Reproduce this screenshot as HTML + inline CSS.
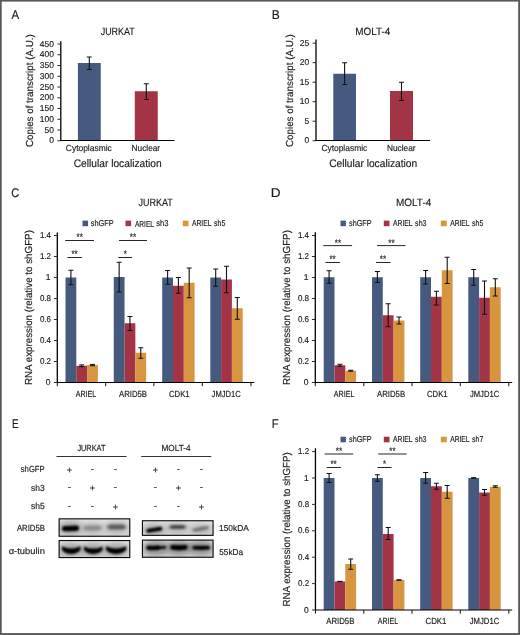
<!DOCTYPE html>
<html lang="en">
<head>
<meta charset="utf-8">
<title>Figure</title>
<style>
html,body{margin:0;padding:0;background:#fff;}
body{width:520px;height:635px;overflow:hidden;}
svg{display:block;font-family:"Liberation Sans", sans-serif;}
text{stroke:#1c1c1c;stroke-width:0.16px;text-rendering:geometricPrecision;}
</style>
</head>
<body>
<svg width="520" height="635" viewBox="0 0 520 635" role="img" aria-label="Figure panels A to F">
<rect x="0" y="0" width="520" height="635" fill="#ffffff"/>
<rect x="0" y="0" width="520" height="1.6" fill="#585858"/>
<rect x="0" y="0" width="1.7" height="635" fill="#585858"/>
<rect x="518.2" y="0" width="1.8" height="635" fill="#585858"/>
<rect x="0" y="633.1" width="520" height="1.9" fill="#585858"/>
<text x="11.57" y="18.70" font-size="12.6" textLength="7.65" lengthAdjust="spacingAndGlyphs" fill="#1c1c1c">A</text>
<text x="100.67" y="34.70" font-size="10.6" textLength="34.14" lengthAdjust="spacingAndGlyphs" fill="#1c1c1c">JURKAT</text>
<line x1="60.80" y1="41.25" x2="60.80" y2="141.00" stroke="#000" stroke-width="1.3"/>
<line x1="57.40" y1="140.80" x2="60.80" y2="140.80" stroke="#2a2a2a" stroke-width="1.0"/>
<text x="49.27" y="143.45" font-size="8.5" textLength="4.73" lengthAdjust="spacingAndGlyphs" fill="#1c1c1c">0</text>
<line x1="57.40" y1="130.04" x2="60.80" y2="130.04" stroke="#2a2a2a" stroke-width="1.0"/>
<text x="44.55" y="132.69" font-size="8.5" textLength="9.45" lengthAdjust="spacingAndGlyphs" fill="#1c1c1c">50</text>
<line x1="57.40" y1="119.29" x2="60.80" y2="119.29" stroke="#2a2a2a" stroke-width="1.0"/>
<text x="39.82" y="121.94" font-size="8.5" textLength="14.18" lengthAdjust="spacingAndGlyphs" fill="#1c1c1c">100</text>
<line x1="57.40" y1="108.53" x2="60.80" y2="108.53" stroke="#2a2a2a" stroke-width="1.0"/>
<text x="39.82" y="111.18" font-size="8.5" textLength="14.18" lengthAdjust="spacingAndGlyphs" fill="#1c1c1c">150</text>
<line x1="57.40" y1="97.78" x2="60.80" y2="97.78" stroke="#2a2a2a" stroke-width="1.0"/>
<text x="39.82" y="100.43" font-size="8.5" textLength="14.18" lengthAdjust="spacingAndGlyphs" fill="#1c1c1c">200</text>
<line x1="57.40" y1="87.02" x2="60.80" y2="87.02" stroke="#2a2a2a" stroke-width="1.0"/>
<text x="39.82" y="89.67" font-size="8.5" textLength="14.18" lengthAdjust="spacingAndGlyphs" fill="#1c1c1c">250</text>
<line x1="57.40" y1="76.27" x2="60.80" y2="76.27" stroke="#2a2a2a" stroke-width="1.0"/>
<text x="39.82" y="78.92" font-size="8.5" textLength="14.18" lengthAdjust="spacingAndGlyphs" fill="#1c1c1c">300</text>
<line x1="57.40" y1="65.51" x2="60.80" y2="65.51" stroke="#2a2a2a" stroke-width="1.0"/>
<text x="39.82" y="68.16" font-size="8.5" textLength="14.18" lengthAdjust="spacingAndGlyphs" fill="#1c1c1c">350</text>
<line x1="57.40" y1="54.76" x2="60.80" y2="54.76" stroke="#2a2a2a" stroke-width="1.0"/>
<text x="39.82" y="57.41" font-size="8.5" textLength="14.18" lengthAdjust="spacingAndGlyphs" fill="#1c1c1c">400</text>
<line x1="57.40" y1="44.00" x2="60.80" y2="44.00" stroke="#2a2a2a" stroke-width="1.0"/>
<text x="39.82" y="46.65" font-size="8.5" textLength="14.18" lengthAdjust="spacingAndGlyphs" fill="#1c1c1c">450</text>
<rect x="77.90" y="63.00" width="22.85" height="77.50" fill="#465a80"/>
<rect x="134.80" y="91.25" width="22.95" height="49.25" fill="#a23446"/>
<line x1="89.30" y1="57.00" x2="89.30" y2="69.50" stroke="#111" stroke-width="1.1"/>
<line x1="86.80" y1="57.00" x2="91.80" y2="57.00" stroke="#111" stroke-width="1.0"/>
<line x1="86.80" y1="69.50" x2="91.80" y2="69.50" stroke="#111" stroke-width="1.0"/>
<line x1="146.30" y1="83.75" x2="146.30" y2="99.50" stroke="#111" stroke-width="1.1"/>
<line x1="143.80" y1="83.75" x2="148.80" y2="83.75" stroke="#111" stroke-width="1.0"/>
<line x1="143.80" y1="99.50" x2="148.80" y2="99.50" stroke="#111" stroke-width="1.0"/>
<line x1="60.30" y1="140.50" x2="174.50" y2="140.50" stroke="#000" stroke-width="1.2"/>
<text x="65.83" y="151.30" font-size="8.8" textLength="45.91" lengthAdjust="spacingAndGlyphs" fill="#1c1c1c">Cytoplasmic</text>
<text x="131.57" y="151.30" font-size="8.8" textLength="28.57" lengthAdjust="spacingAndGlyphs" fill="#1c1c1c">Nuclear</text>
<text x="73.74" y="166.80" font-size="10.9" textLength="87.93" lengthAdjust="spacingAndGlyphs" fill="#1c1c1c">Cellular localization</text>
<text transform="translate(32.50,146.99) rotate(-90)" font-size="10.2" textLength="112.71" lengthAdjust="spacingAndGlyphs" fill="#1c1c1c">Copies of transcript (A.U.)</text>
<text x="271.81" y="18.70" font-size="12.6" textLength="8.02" lengthAdjust="spacingAndGlyphs" fill="#1c1c1c">B</text>
<text x="355.18" y="34.70" font-size="10.6" textLength="35.09" lengthAdjust="spacingAndGlyphs" fill="#1c1c1c">MOLT-4</text>
<line x1="316.00" y1="39.60" x2="316.00" y2="141.00" stroke="#000" stroke-width="1.3"/>
<line x1="312.60" y1="140.75" x2="316.00" y2="140.75" stroke="#2a2a2a" stroke-width="1.0"/>
<text x="304.47" y="143.40" font-size="8.5" textLength="4.73" lengthAdjust="spacingAndGlyphs" fill="#1c1c1c">0</text>
<line x1="312.60" y1="121.23" x2="316.00" y2="121.23" stroke="#2a2a2a" stroke-width="1.0"/>
<text x="304.47" y="123.88" font-size="8.5" textLength="4.73" lengthAdjust="spacingAndGlyphs" fill="#1c1c1c">5</text>
<line x1="312.60" y1="101.71" x2="316.00" y2="101.71" stroke="#2a2a2a" stroke-width="1.0"/>
<text x="299.75" y="104.36" font-size="8.5" textLength="9.45" lengthAdjust="spacingAndGlyphs" fill="#1c1c1c">10</text>
<line x1="312.60" y1="82.19" x2="316.00" y2="82.19" stroke="#2a2a2a" stroke-width="1.0"/>
<text x="299.75" y="84.84" font-size="8.5" textLength="9.45" lengthAdjust="spacingAndGlyphs" fill="#1c1c1c">15</text>
<line x1="312.60" y1="62.67" x2="316.00" y2="62.67" stroke="#2a2a2a" stroke-width="1.0"/>
<text x="299.75" y="65.32" font-size="8.5" textLength="9.45" lengthAdjust="spacingAndGlyphs" fill="#1c1c1c">20</text>
<line x1="312.60" y1="43.15" x2="316.00" y2="43.15" stroke="#2a2a2a" stroke-width="1.0"/>
<text x="299.75" y="45.80" font-size="8.5" textLength="9.45" lengthAdjust="spacingAndGlyphs" fill="#1c1c1c">25</text>
<rect x="333.30" y="73.75" width="22.70" height="66.75" fill="#465a80"/>
<rect x="390.00" y="91.00" width="23.00" height="49.50" fill="#a23446"/>
<line x1="344.60" y1="62.75" x2="344.60" y2="84.50" stroke="#111" stroke-width="1.1"/>
<line x1="342.10" y1="62.75" x2="347.10" y2="62.75" stroke="#111" stroke-width="1.0"/>
<line x1="342.10" y1="84.50" x2="347.10" y2="84.50" stroke="#111" stroke-width="1.0"/>
<line x1="401.50" y1="82.25" x2="401.50" y2="100.50" stroke="#111" stroke-width="1.1"/>
<line x1="399.00" y1="82.25" x2="404.00" y2="82.25" stroke="#111" stroke-width="1.0"/>
<line x1="399.00" y1="100.50" x2="404.00" y2="100.50" stroke="#111" stroke-width="1.0"/>
<line x1="315.50" y1="140.50" x2="430.00" y2="140.50" stroke="#000" stroke-width="1.2"/>
<text x="321.38" y="151.30" font-size="8.8" textLength="45.86" lengthAdjust="spacingAndGlyphs" fill="#1c1c1c">Cytoplasmic</text>
<text x="387.01" y="151.30" font-size="8.8" textLength="28.62" lengthAdjust="spacingAndGlyphs" fill="#1c1c1c">Nuclear</text>
<text x="329.19" y="166.80" font-size="10.9" textLength="87.98" lengthAdjust="spacingAndGlyphs" fill="#1c1c1c">Cellular localization</text>
<text transform="translate(293.20,146.99) rotate(-90)" font-size="10.2" textLength="112.71" lengthAdjust="spacingAndGlyphs" fill="#1c1c1c">Copies of transcript (A.U.)</text>
<text x="11.34" y="197.00" font-size="12.6" textLength="8.11" lengthAdjust="spacingAndGlyphs" fill="#1c1c1c">C</text>
<text x="138.46" y="205.60" font-size="10.6" textLength="34.44" lengthAdjust="spacingAndGlyphs" fill="#1c1c1c">JURKAT</text>
<line x1="57.30" y1="232.50" x2="57.30" y2="383.00" stroke="#000" stroke-width="1.3"/>
<line x1="53.90" y1="382.50" x2="57.30" y2="382.50" stroke="#2a2a2a" stroke-width="1.0"/>
<text x="45.77" y="385.15" font-size="8.5" textLength="4.73" lengthAdjust="spacingAndGlyphs" fill="#1c1c1c">0</text>
<line x1="53.90" y1="361.50" x2="57.30" y2="361.50" stroke="#2a2a2a" stroke-width="1.0"/>
<text x="39.89" y="364.15" font-size="8.5" textLength="11.11" lengthAdjust="spacingAndGlyphs" fill="#1c1c1c">0.2</text>
<line x1="53.90" y1="340.50" x2="57.30" y2="340.50" stroke="#2a2a2a" stroke-width="1.0"/>
<text x="39.89" y="343.15" font-size="8.5" textLength="11.11" lengthAdjust="spacingAndGlyphs" fill="#1c1c1c">0.4</text>
<line x1="53.90" y1="319.50" x2="57.30" y2="319.50" stroke="#2a2a2a" stroke-width="1.0"/>
<text x="39.89" y="322.15" font-size="8.5" textLength="11.11" lengthAdjust="spacingAndGlyphs" fill="#1c1c1c">0.6</text>
<line x1="53.90" y1="298.50" x2="57.30" y2="298.50" stroke="#2a2a2a" stroke-width="1.0"/>
<text x="39.89" y="301.15" font-size="8.5" textLength="11.11" lengthAdjust="spacingAndGlyphs" fill="#1c1c1c">0.8</text>
<line x1="53.90" y1="277.50" x2="57.30" y2="277.50" stroke="#2a2a2a" stroke-width="1.0"/>
<text x="45.77" y="280.15" font-size="8.5" textLength="4.73" lengthAdjust="spacingAndGlyphs" fill="#1c1c1c">1</text>
<line x1="53.90" y1="256.50" x2="57.30" y2="256.50" stroke="#2a2a2a" stroke-width="1.0"/>
<text x="39.89" y="259.15" font-size="8.5" textLength="11.11" lengthAdjust="spacingAndGlyphs" fill="#1c1c1c">1.2</text>
<line x1="53.90" y1="235.50" x2="57.30" y2="235.50" stroke="#2a2a2a" stroke-width="1.0"/>
<text x="39.89" y="238.15" font-size="8.5" textLength="11.11" lengthAdjust="spacingAndGlyphs" fill="#1c1c1c">1.4</text>
<rect x="65.50" y="277.50" width="10.80" height="105.00" fill="#465a80"/>
<rect x="76.30" y="365.75" width="10.80" height="16.75" fill="#a23446"/>
<rect x="87.10" y="365.00" width="10.80" height="17.50" fill="#d6953e"/>
<line x1="70.90" y1="270.25" x2="70.90" y2="284.75" stroke="#111" stroke-width="1.1"/>
<line x1="68.40" y1="270.25" x2="73.40" y2="270.25" stroke="#111" stroke-width="1.0"/>
<line x1="68.40" y1="284.75" x2="73.40" y2="284.75" stroke="#111" stroke-width="1.0"/>
<line x1="81.70" y1="364.90" x2="81.70" y2="366.60" stroke="#111" stroke-width="1.1"/>
<line x1="79.20" y1="364.90" x2="84.20" y2="364.90" stroke="#111" stroke-width="1.0"/>
<line x1="79.20" y1="366.60" x2="84.20" y2="366.60" stroke="#111" stroke-width="1.0"/>
<line x1="92.50" y1="364.40" x2="92.50" y2="365.70" stroke="#111" stroke-width="1.1"/>
<line x1="90.00" y1="364.40" x2="95.00" y2="364.40" stroke="#111" stroke-width="1.0"/>
<line x1="90.00" y1="365.70" x2="95.00" y2="365.70" stroke="#111" stroke-width="1.0"/>
<rect x="113.75" y="277.00" width="10.80" height="105.50" fill="#465a80"/>
<rect x="124.55" y="323.25" width="10.80" height="59.25" fill="#a23446"/>
<rect x="135.35" y="352.75" width="10.80" height="29.75" fill="#d6953e"/>
<line x1="119.15" y1="262.25" x2="119.15" y2="292.00" stroke="#111" stroke-width="1.1"/>
<line x1="116.65" y1="262.25" x2="121.65" y2="262.25" stroke="#111" stroke-width="1.0"/>
<line x1="116.65" y1="292.00" x2="121.65" y2="292.00" stroke="#111" stroke-width="1.0"/>
<line x1="129.95" y1="316.50" x2="129.95" y2="330.50" stroke="#111" stroke-width="1.1"/>
<line x1="127.45" y1="316.50" x2="132.45" y2="316.50" stroke="#111" stroke-width="1.0"/>
<line x1="127.45" y1="330.50" x2="132.45" y2="330.50" stroke="#111" stroke-width="1.0"/>
<line x1="140.75" y1="347.75" x2="140.75" y2="358.25" stroke="#111" stroke-width="1.1"/>
<line x1="138.25" y1="347.75" x2="143.25" y2="347.75" stroke="#111" stroke-width="1.0"/>
<line x1="138.25" y1="358.25" x2="143.25" y2="358.25" stroke="#111" stroke-width="1.0"/>
<rect x="162.20" y="277.50" width="10.80" height="105.00" fill="#465a80"/>
<rect x="173.00" y="285.75" width="10.80" height="96.75" fill="#a23446"/>
<rect x="183.80" y="282.75" width="10.80" height="99.75" fill="#d6953e"/>
<line x1="167.60" y1="270.50" x2="167.60" y2="284.25" stroke="#111" stroke-width="1.1"/>
<line x1="165.10" y1="270.50" x2="170.10" y2="270.50" stroke="#111" stroke-width="1.0"/>
<line x1="165.10" y1="284.25" x2="170.10" y2="284.25" stroke="#111" stroke-width="1.0"/>
<line x1="178.40" y1="277.50" x2="178.40" y2="293.25" stroke="#111" stroke-width="1.1"/>
<line x1="175.90" y1="277.50" x2="180.90" y2="277.50" stroke="#111" stroke-width="1.0"/>
<line x1="175.90" y1="293.25" x2="180.90" y2="293.25" stroke="#111" stroke-width="1.0"/>
<line x1="189.20" y1="268.00" x2="189.20" y2="297.75" stroke="#111" stroke-width="1.1"/>
<line x1="186.70" y1="268.00" x2="191.70" y2="268.00" stroke="#111" stroke-width="1.0"/>
<line x1="186.70" y1="297.75" x2="191.70" y2="297.75" stroke="#111" stroke-width="1.0"/>
<rect x="210.30" y="277.50" width="10.80" height="105.00" fill="#465a80"/>
<rect x="221.10" y="279.50" width="10.80" height="103.00" fill="#a23446"/>
<rect x="231.90" y="308.25" width="10.80" height="74.25" fill="#d6953e"/>
<line x1="215.70" y1="269.00" x2="215.70" y2="286.25" stroke="#111" stroke-width="1.1"/>
<line x1="213.20" y1="269.00" x2="218.20" y2="269.00" stroke="#111" stroke-width="1.0"/>
<line x1="213.20" y1="286.25" x2="218.20" y2="286.25" stroke="#111" stroke-width="1.0"/>
<line x1="226.50" y1="266.25" x2="226.50" y2="292.75" stroke="#111" stroke-width="1.1"/>
<line x1="224.00" y1="266.25" x2="229.00" y2="266.25" stroke="#111" stroke-width="1.0"/>
<line x1="224.00" y1="292.75" x2="229.00" y2="292.75" stroke="#111" stroke-width="1.0"/>
<line x1="237.30" y1="297.50" x2="237.30" y2="319.25" stroke="#111" stroke-width="1.1"/>
<line x1="234.80" y1="297.50" x2="239.80" y2="297.50" stroke="#111" stroke-width="1.0"/>
<line x1="234.80" y1="319.25" x2="239.80" y2="319.25" stroke="#111" stroke-width="1.0"/>
<line x1="56.80" y1="382.50" x2="254.25" y2="382.50" stroke="#000" stroke-width="1.2"/>
<line x1="57.30" y1="382.50" x2="57.30" y2="386.20" stroke="#111" stroke-width="1.0"/>
<line x1="105.70" y1="382.50" x2="105.70" y2="386.20" stroke="#111" stroke-width="1.0"/>
<line x1="153.90" y1="382.50" x2="153.90" y2="386.20" stroke="#111" stroke-width="1.0"/>
<line x1="202.30" y1="382.50" x2="202.30" y2="386.20" stroke="#111" stroke-width="1.0"/>
<line x1="251.00" y1="382.50" x2="251.00" y2="386.20" stroke="#111" stroke-width="1.0"/>
<text x="75.68" y="397.20" font-size="8.8" textLength="20.55" lengthAdjust="spacingAndGlyphs" fill="#1c1c1c">ARIEL</text>
<text x="118.98" y="397.20" font-size="8.8" textLength="28.03" lengthAdjust="spacingAndGlyphs" fill="#1c1c1c">ARID5B</text>
<text x="169.01" y="397.20" font-size="8.8" textLength="20.55" lengthAdjust="spacingAndGlyphs" fill="#1c1c1c">CDK1</text>
<text x="211.59" y="397.20" font-size="8.8" textLength="29.31" lengthAdjust="spacingAndGlyphs" fill="#1c1c1c">JMJD1C</text>
<rect x="82.50" y="220.60" width="5.60" height="5.60" fill="#465a80"/>
<text x="90.80" y="226.30" font-size="8.6" textLength="22.78" lengthAdjust="spacingAndGlyphs" fill="#1c1c1c">shGFP</text>
<rect x="125.50" y="220.60" width="5.60" height="5.60" fill="#a23446"/>
<text x="134.88" y="226.80" font-size="8.6" textLength="19.13" lengthAdjust="spacingAndGlyphs" fill="#1c1c1c">ARIEL</text>
<text x="156.19" y="225.60" font-size="8.6" textLength="12.25" lengthAdjust="spacingAndGlyphs" fill="#1c1c1c">sh3</text>
<rect x="182.80" y="220.60" width="5.70" height="5.60" fill="#d6953e"/>
<text x="191.98" y="226.30" font-size="8.6" textLength="19.54" lengthAdjust="spacingAndGlyphs" fill="#1c1c1c">ARIEL</text>
<text x="213.98" y="226.30" font-size="8.6" textLength="11.31" lengthAdjust="spacingAndGlyphs" fill="#1c1c1c">sh5</text>
<line x1="65.20" y1="240.50" x2="94.00" y2="240.50" stroke="#1a1a1a" stroke-width="0.95"/>
<text x="76.51" y="240.40" font-size="9.6" textLength="6.37" lengthAdjust="spacingAndGlyphs" fill="#1c1c1c">**</text>
<line x1="67.30" y1="257.50" x2="81.80" y2="257.50" stroke="#1a1a1a" stroke-width="0.95"/>
<text x="71.41" y="257.40" font-size="9.6" textLength="6.37" lengthAdjust="spacingAndGlyphs" fill="#1c1c1c">**</text>
<line x1="119.00" y1="240.50" x2="147.00" y2="240.50" stroke="#1a1a1a" stroke-width="0.95"/>
<text x="129.81" y="240.40" font-size="9.6" textLength="6.37" lengthAdjust="spacingAndGlyphs" fill="#1c1c1c">**</text>
<line x1="118.20" y1="257.50" x2="132.00" y2="257.50" stroke="#1a1a1a" stroke-width="0.95"/>
<text x="123.76" y="257.40" font-size="9.6" textLength="3.07" lengthAdjust="spacingAndGlyphs" fill="#1c1c1c">*</text>
<text transform="translate(31.90,385.11) rotate(-90)" font-size="10.2" textLength="155.01" lengthAdjust="spacingAndGlyphs" fill="#1c1c1c">RNA expression (relative to shGFP)</text>
<text x="270.87" y="197.00" font-size="12.6" textLength="9.87" lengthAdjust="spacingAndGlyphs" fill="#1c1c1c">D</text>
<text x="395.98" y="205.60" font-size="10.6" textLength="35.30" lengthAdjust="spacingAndGlyphs" fill="#1c1c1c">MOLT-4</text>
<line x1="315.30" y1="232.30" x2="315.30" y2="383.00" stroke="#000" stroke-width="1.3"/>
<line x1="311.90" y1="382.50" x2="315.30" y2="382.50" stroke="#2a2a2a" stroke-width="1.0"/>
<text x="303.77" y="385.15" font-size="8.5" textLength="4.73" lengthAdjust="spacingAndGlyphs" fill="#1c1c1c">0</text>
<line x1="311.90" y1="361.50" x2="315.30" y2="361.50" stroke="#2a2a2a" stroke-width="1.0"/>
<text x="297.89" y="364.15" font-size="8.5" textLength="11.11" lengthAdjust="spacingAndGlyphs" fill="#1c1c1c">0.2</text>
<line x1="311.90" y1="340.50" x2="315.30" y2="340.50" stroke="#2a2a2a" stroke-width="1.0"/>
<text x="297.89" y="343.15" font-size="8.5" textLength="11.11" lengthAdjust="spacingAndGlyphs" fill="#1c1c1c">0.4</text>
<line x1="311.90" y1="319.50" x2="315.30" y2="319.50" stroke="#2a2a2a" stroke-width="1.0"/>
<text x="297.89" y="322.15" font-size="8.5" textLength="11.11" lengthAdjust="spacingAndGlyphs" fill="#1c1c1c">0.6</text>
<line x1="311.90" y1="298.50" x2="315.30" y2="298.50" stroke="#2a2a2a" stroke-width="1.0"/>
<text x="297.89" y="301.15" font-size="8.5" textLength="11.11" lengthAdjust="spacingAndGlyphs" fill="#1c1c1c">0.8</text>
<line x1="311.90" y1="277.50" x2="315.30" y2="277.50" stroke="#2a2a2a" stroke-width="1.0"/>
<text x="303.77" y="280.15" font-size="8.5" textLength="4.73" lengthAdjust="spacingAndGlyphs" fill="#1c1c1c">1</text>
<line x1="311.90" y1="256.50" x2="315.30" y2="256.50" stroke="#2a2a2a" stroke-width="1.0"/>
<text x="297.89" y="259.15" font-size="8.5" textLength="11.11" lengthAdjust="spacingAndGlyphs" fill="#1c1c1c">1.2</text>
<line x1="311.90" y1="235.50" x2="315.30" y2="235.50" stroke="#2a2a2a" stroke-width="1.0"/>
<text x="297.89" y="238.15" font-size="8.5" textLength="11.11" lengthAdjust="spacingAndGlyphs" fill="#1c1c1c">1.4</text>
<rect x="323.70" y="277.25" width="10.80" height="105.25" fill="#465a80"/>
<rect x="334.50" y="365.25" width="10.80" height="17.25" fill="#a23446"/>
<rect x="345.30" y="370.75" width="10.80" height="11.75" fill="#d6953e"/>
<line x1="329.10" y1="270.75" x2="329.10" y2="283.25" stroke="#111" stroke-width="1.1"/>
<line x1="326.60" y1="270.75" x2="331.60" y2="270.75" stroke="#111" stroke-width="1.0"/>
<line x1="326.60" y1="283.25" x2="331.60" y2="283.25" stroke="#111" stroke-width="1.0"/>
<line x1="339.90" y1="364.30" x2="339.90" y2="366.30" stroke="#111" stroke-width="1.1"/>
<line x1="337.40" y1="364.30" x2="342.40" y2="364.30" stroke="#111" stroke-width="1.0"/>
<line x1="337.40" y1="366.30" x2="342.40" y2="366.30" stroke="#111" stroke-width="1.0"/>
<line x1="350.70" y1="370.30" x2="350.70" y2="371.20" stroke="#111" stroke-width="1.1"/>
<line x1="348.20" y1="370.30" x2="353.20" y2="370.30" stroke="#111" stroke-width="1.0"/>
<line x1="348.20" y1="371.20" x2="353.20" y2="371.20" stroke="#111" stroke-width="1.0"/>
<rect x="372.00" y="277.25" width="10.80" height="105.25" fill="#465a80"/>
<rect x="382.80" y="315.25" width="10.80" height="67.25" fill="#a23446"/>
<rect x="393.60" y="320.50" width="10.80" height="62.00" fill="#d6953e"/>
<line x1="377.40" y1="271.50" x2="377.40" y2="282.50" stroke="#111" stroke-width="1.1"/>
<line x1="374.90" y1="271.50" x2="379.90" y2="271.50" stroke="#111" stroke-width="1.0"/>
<line x1="374.90" y1="282.50" x2="379.90" y2="282.50" stroke="#111" stroke-width="1.0"/>
<line x1="388.20" y1="303.75" x2="388.20" y2="326.75" stroke="#111" stroke-width="1.1"/>
<line x1="385.70" y1="303.75" x2="390.70" y2="303.75" stroke="#111" stroke-width="1.0"/>
<line x1="385.70" y1="326.75" x2="390.70" y2="326.75" stroke="#111" stroke-width="1.0"/>
<line x1="399.00" y1="317.00" x2="399.00" y2="324.00" stroke="#111" stroke-width="1.1"/>
<line x1="396.50" y1="317.00" x2="401.50" y2="317.00" stroke="#111" stroke-width="1.0"/>
<line x1="396.50" y1="324.00" x2="401.50" y2="324.00" stroke="#111" stroke-width="1.0"/>
<rect x="420.20" y="277.25" width="10.80" height="105.25" fill="#465a80"/>
<rect x="431.00" y="296.75" width="10.80" height="85.75" fill="#a23446"/>
<rect x="441.80" y="270.25" width="10.80" height="112.25" fill="#d6953e"/>
<line x1="425.60" y1="270.50" x2="425.60" y2="284.00" stroke="#111" stroke-width="1.1"/>
<line x1="423.10" y1="270.50" x2="428.10" y2="270.50" stroke="#111" stroke-width="1.0"/>
<line x1="423.10" y1="284.00" x2="428.10" y2="284.00" stroke="#111" stroke-width="1.0"/>
<line x1="436.40" y1="291.25" x2="436.40" y2="305.00" stroke="#111" stroke-width="1.1"/>
<line x1="433.90" y1="291.25" x2="438.90" y2="291.25" stroke="#111" stroke-width="1.0"/>
<line x1="433.90" y1="305.00" x2="438.90" y2="305.00" stroke="#111" stroke-width="1.0"/>
<line x1="447.20" y1="257.25" x2="447.20" y2="283.50" stroke="#111" stroke-width="1.1"/>
<line x1="444.70" y1="257.25" x2="449.70" y2="257.25" stroke="#111" stroke-width="1.0"/>
<line x1="444.70" y1="283.50" x2="449.70" y2="283.50" stroke="#111" stroke-width="1.0"/>
<rect x="468.30" y="277.25" width="10.80" height="105.25" fill="#465a80"/>
<rect x="479.10" y="297.75" width="10.80" height="84.75" fill="#a23446"/>
<rect x="489.90" y="287.25" width="10.80" height="95.25" fill="#d6953e"/>
<line x1="473.70" y1="269.50" x2="473.70" y2="285.25" stroke="#111" stroke-width="1.1"/>
<line x1="471.20" y1="269.50" x2="476.20" y2="269.50" stroke="#111" stroke-width="1.0"/>
<line x1="471.20" y1="285.25" x2="476.20" y2="285.25" stroke="#111" stroke-width="1.0"/>
<line x1="484.50" y1="281.00" x2="484.50" y2="314.25" stroke="#111" stroke-width="1.1"/>
<line x1="482.00" y1="281.00" x2="487.00" y2="281.00" stroke="#111" stroke-width="1.0"/>
<line x1="482.00" y1="314.25" x2="487.00" y2="314.25" stroke="#111" stroke-width="1.0"/>
<line x1="495.30" y1="278.75" x2="495.30" y2="296.00" stroke="#111" stroke-width="1.1"/>
<line x1="492.80" y1="278.75" x2="497.80" y2="278.75" stroke="#111" stroke-width="1.0"/>
<line x1="492.80" y1="296.00" x2="497.80" y2="296.00" stroke="#111" stroke-width="1.0"/>
<line x1="314.80" y1="382.50" x2="512.20" y2="382.50" stroke="#000" stroke-width="1.2"/>
<line x1="315.30" y1="382.50" x2="315.30" y2="386.20" stroke="#111" stroke-width="1.0"/>
<line x1="363.80" y1="382.50" x2="363.80" y2="386.20" stroke="#111" stroke-width="1.0"/>
<line x1="412.00" y1="382.50" x2="412.00" y2="386.20" stroke="#111" stroke-width="1.0"/>
<line x1="460.30" y1="382.50" x2="460.30" y2="386.20" stroke="#111" stroke-width="1.0"/>
<line x1="508.80" y1="382.50" x2="508.80" y2="386.20" stroke="#111" stroke-width="1.0"/>
<text x="333.78" y="397.20" font-size="8.8" textLength="20.65" lengthAdjust="spacingAndGlyphs" fill="#1c1c1c">ARIEL</text>
<text x="377.08" y="397.20" font-size="8.8" textLength="28.03" lengthAdjust="spacingAndGlyphs" fill="#1c1c1c">ARID5B</text>
<text x="427.01" y="397.20" font-size="8.8" textLength="20.55" lengthAdjust="spacingAndGlyphs" fill="#1c1c1c">CDK1</text>
<text x="469.88" y="397.20" font-size="8.8" textLength="29.41" lengthAdjust="spacingAndGlyphs" fill="#1c1c1c">JMJD1C</text>
<rect x="340.50" y="220.60" width="5.40" height="5.60" fill="#465a80"/>
<text x="349.00" y="226.30" font-size="8.6" textLength="22.68" lengthAdjust="spacingAndGlyphs" fill="#1c1c1c">shGFP</text>
<rect x="383.80" y="220.60" width="5.70" height="5.60" fill="#a23446"/>
<text x="392.98" y="226.30" font-size="8.6" textLength="19.66" lengthAdjust="spacingAndGlyphs" fill="#1c1c1c">ARIEL</text>
<text x="415.12" y="226.30" font-size="8.6" textLength="11.40" lengthAdjust="spacingAndGlyphs" fill="#1c1c1c">sh3</text>
<rect x="440.80" y="220.60" width="5.90" height="5.60" fill="#d6953e"/>
<text x="450.18" y="226.30" font-size="8.6" textLength="19.42" lengthAdjust="spacingAndGlyphs" fill="#1c1c1c">ARIEL</text>
<text x="472.05" y="226.30" font-size="8.6" textLength="11.25" lengthAdjust="spacingAndGlyphs" fill="#1c1c1c">sh5</text>
<line x1="323.30" y1="245.60" x2="352.10" y2="245.60" stroke="#1a1a1a" stroke-width="0.95"/>
<text x="334.71" y="245.50" font-size="9.6" textLength="6.37" lengthAdjust="spacingAndGlyphs" fill="#1c1c1c">**</text>
<line x1="325.40" y1="262.50" x2="339.90" y2="262.50" stroke="#1a1a1a" stroke-width="0.95"/>
<text x="329.41" y="262.40" font-size="9.6" textLength="6.37" lengthAdjust="spacingAndGlyphs" fill="#1c1c1c">**</text>
<line x1="377.00" y1="245.60" x2="405.50" y2="245.60" stroke="#1a1a1a" stroke-width="0.95"/>
<text x="388.31" y="245.50" font-size="9.6" textLength="6.37" lengthAdjust="spacingAndGlyphs" fill="#1c1c1c">**</text>
<line x1="376.00" y1="262.50" x2="390.50" y2="262.50" stroke="#1a1a1a" stroke-width="0.95"/>
<text x="379.81" y="262.40" font-size="9.6" textLength="6.37" lengthAdjust="spacingAndGlyphs" fill="#1c1c1c">**</text>
<text transform="translate(289.90,385.11) rotate(-90)" font-size="10.2" textLength="155.01" lengthAdjust="spacingAndGlyphs" fill="#1c1c1c">RNA expression (relative to shGFP)</text>
<text x="271.87" y="427.60" font-size="12.6" textLength="6.89" lengthAdjust="spacingAndGlyphs" fill="#1c1c1c">F</text>
<line x1="315.45" y1="448.25" x2="315.45" y2="610.50" stroke="#000" stroke-width="1.3"/>
<line x1="312.05" y1="610.00" x2="315.45" y2="610.00" stroke="#2a2a2a" stroke-width="1.0"/>
<text x="303.92" y="612.65" font-size="8.5" textLength="4.73" lengthAdjust="spacingAndGlyphs" fill="#1c1c1c">0</text>
<line x1="312.05" y1="583.60" x2="315.45" y2="583.60" stroke="#2a2a2a" stroke-width="1.0"/>
<text x="298.04" y="586.25" font-size="8.5" textLength="11.11" lengthAdjust="spacingAndGlyphs" fill="#1c1c1c">0.2</text>
<line x1="312.05" y1="557.20" x2="315.45" y2="557.20" stroke="#2a2a2a" stroke-width="1.0"/>
<text x="298.04" y="559.85" font-size="8.5" textLength="11.11" lengthAdjust="spacingAndGlyphs" fill="#1c1c1c">0.4</text>
<line x1="312.05" y1="530.80" x2="315.45" y2="530.80" stroke="#2a2a2a" stroke-width="1.0"/>
<text x="298.04" y="533.45" font-size="8.5" textLength="11.11" lengthAdjust="spacingAndGlyphs" fill="#1c1c1c">0.6</text>
<line x1="312.05" y1="504.40" x2="315.45" y2="504.40" stroke="#2a2a2a" stroke-width="1.0"/>
<text x="298.04" y="507.05" font-size="8.5" textLength="11.11" lengthAdjust="spacingAndGlyphs" fill="#1c1c1c">0.8</text>
<line x1="312.05" y1="478.00" x2="315.45" y2="478.00" stroke="#2a2a2a" stroke-width="1.0"/>
<text x="303.92" y="480.65" font-size="8.5" textLength="4.73" lengthAdjust="spacingAndGlyphs" fill="#1c1c1c">1</text>
<line x1="312.05" y1="451.60" x2="315.45" y2="451.60" stroke="#2a2a2a" stroke-width="1.0"/>
<text x="298.04" y="454.25" font-size="8.5" textLength="11.11" lengthAdjust="spacingAndGlyphs" fill="#1c1c1c">1.2</text>
<rect x="323.70" y="478.00" width="10.80" height="132.00" fill="#465a80"/>
<rect x="334.50" y="581.50" width="10.80" height="28.50" fill="#a23446"/>
<rect x="345.30" y="564.00" width="10.80" height="46.00" fill="#d6953e"/>
<line x1="329.10" y1="473.50" x2="329.10" y2="482.50" stroke="#111" stroke-width="1.1"/>
<line x1="326.60" y1="473.50" x2="331.60" y2="473.50" stroke="#111" stroke-width="1.0"/>
<line x1="326.60" y1="482.50" x2="331.60" y2="482.50" stroke="#111" stroke-width="1.0"/>
<line x1="339.90" y1="581.30" x2="339.90" y2="581.70" stroke="#111" stroke-width="1.1"/>
<line x1="337.40" y1="581.30" x2="342.40" y2="581.30" stroke="#111" stroke-width="1.0"/>
<line x1="337.40" y1="581.70" x2="342.40" y2="581.70" stroke="#111" stroke-width="1.0"/>
<line x1="350.70" y1="559.00" x2="350.70" y2="569.25" stroke="#111" stroke-width="1.1"/>
<line x1="348.20" y1="559.00" x2="353.20" y2="559.00" stroke="#111" stroke-width="1.0"/>
<line x1="348.20" y1="569.25" x2="353.20" y2="569.25" stroke="#111" stroke-width="1.0"/>
<rect x="372.00" y="478.00" width="10.80" height="132.00" fill="#465a80"/>
<rect x="382.80" y="534.00" width="10.80" height="76.00" fill="#a23446"/>
<rect x="393.60" y="580.00" width="10.80" height="30.00" fill="#d6953e"/>
<line x1="377.40" y1="474.75" x2="377.40" y2="481.25" stroke="#111" stroke-width="1.1"/>
<line x1="374.90" y1="474.75" x2="379.90" y2="474.75" stroke="#111" stroke-width="1.0"/>
<line x1="374.90" y1="481.25" x2="379.90" y2="481.25" stroke="#111" stroke-width="1.0"/>
<line x1="388.20" y1="527.50" x2="388.20" y2="539.50" stroke="#111" stroke-width="1.1"/>
<line x1="385.70" y1="527.50" x2="390.70" y2="527.50" stroke="#111" stroke-width="1.0"/>
<line x1="385.70" y1="539.50" x2="390.70" y2="539.50" stroke="#111" stroke-width="1.0"/>
<line x1="399.00" y1="579.80" x2="399.00" y2="580.20" stroke="#111" stroke-width="1.1"/>
<line x1="396.50" y1="579.80" x2="401.50" y2="579.80" stroke="#111" stroke-width="1.0"/>
<line x1="396.50" y1="580.20" x2="401.50" y2="580.20" stroke="#111" stroke-width="1.0"/>
<rect x="420.20" y="478.00" width="10.80" height="132.00" fill="#465a80"/>
<rect x="431.00" y="486.25" width="10.80" height="123.75" fill="#a23446"/>
<rect x="441.80" y="491.75" width="10.80" height="118.25" fill="#d6953e"/>
<line x1="425.60" y1="472.50" x2="425.60" y2="483.25" stroke="#111" stroke-width="1.1"/>
<line x1="423.10" y1="472.50" x2="428.10" y2="472.50" stroke="#111" stroke-width="1.0"/>
<line x1="423.10" y1="483.25" x2="428.10" y2="483.25" stroke="#111" stroke-width="1.0"/>
<line x1="436.40" y1="483.25" x2="436.40" y2="489.25" stroke="#111" stroke-width="1.1"/>
<line x1="433.90" y1="483.25" x2="438.90" y2="483.25" stroke="#111" stroke-width="1.0"/>
<line x1="433.90" y1="489.25" x2="438.90" y2="489.25" stroke="#111" stroke-width="1.0"/>
<line x1="447.20" y1="485.50" x2="447.20" y2="498.25" stroke="#111" stroke-width="1.1"/>
<line x1="444.70" y1="485.50" x2="449.70" y2="485.50" stroke="#111" stroke-width="1.0"/>
<line x1="444.70" y1="498.25" x2="449.70" y2="498.25" stroke="#111" stroke-width="1.0"/>
<rect x="468.30" y="478.00" width="10.80" height="132.00" fill="#465a80"/>
<rect x="479.10" y="492.50" width="10.80" height="117.50" fill="#a23446"/>
<rect x="489.90" y="486.75" width="10.80" height="123.25" fill="#d6953e"/>
<line x1="473.70" y1="477.70" x2="473.70" y2="478.30" stroke="#111" stroke-width="1.1"/>
<line x1="471.20" y1="477.70" x2="476.20" y2="477.70" stroke="#111" stroke-width="1.0"/>
<line x1="471.20" y1="478.30" x2="476.20" y2="478.30" stroke="#111" stroke-width="1.0"/>
<line x1="484.50" y1="489.50" x2="484.50" y2="495.25" stroke="#111" stroke-width="1.1"/>
<line x1="482.00" y1="489.50" x2="487.00" y2="489.50" stroke="#111" stroke-width="1.0"/>
<line x1="482.00" y1="495.25" x2="487.00" y2="495.25" stroke="#111" stroke-width="1.0"/>
<line x1="495.30" y1="485.75" x2="495.30" y2="487.25" stroke="#111" stroke-width="1.1"/>
<line x1="492.80" y1="485.75" x2="497.80" y2="485.75" stroke="#111" stroke-width="1.0"/>
<line x1="492.80" y1="487.25" x2="497.80" y2="487.25" stroke="#111" stroke-width="1.0"/>
<line x1="314.95" y1="610.00" x2="512.20" y2="610.00" stroke="#000" stroke-width="1.2"/>
<line x1="315.45" y1="610.00" x2="315.45" y2="613.70" stroke="#111" stroke-width="1.0"/>
<line x1="363.80" y1="610.00" x2="363.80" y2="613.70" stroke="#111" stroke-width="1.0"/>
<line x1="412.00" y1="610.00" x2="412.00" y2="613.70" stroke="#111" stroke-width="1.0"/>
<line x1="460.30" y1="610.00" x2="460.30" y2="613.70" stroke="#111" stroke-width="1.0"/>
<line x1="508.80" y1="610.00" x2="508.80" y2="613.70" stroke="#111" stroke-width="1.0"/>
<text x="326.18" y="624.20" font-size="8.8" textLength="28.23" lengthAdjust="spacingAndGlyphs" fill="#1c1c1c">ARID5B</text>
<text x="377.68" y="624.20" font-size="8.8" textLength="20.45" lengthAdjust="spacingAndGlyphs" fill="#1c1c1c">ARIEL</text>
<text x="425.51" y="624.20" font-size="8.8" textLength="20.97" lengthAdjust="spacingAndGlyphs" fill="#1c1c1c">CDK1</text>
<text x="469.68" y="624.20" font-size="8.8" textLength="29.61" lengthAdjust="spacingAndGlyphs" fill="#1c1c1c">JMJD1C</text>
<rect x="340.50" y="436.70" width="5.40" height="5.60" fill="#465a80"/>
<text x="349.00" y="442.40" font-size="8.6" textLength="22.68" lengthAdjust="spacingAndGlyphs" fill="#1c1c1c">shGFP</text>
<rect x="383.80" y="436.70" width="5.70" height="5.60" fill="#a23446"/>
<text x="392.98" y="442.40" font-size="8.6" textLength="19.66" lengthAdjust="spacingAndGlyphs" fill="#1c1c1c">ARIEL</text>
<text x="415.12" y="442.40" font-size="8.6" textLength="11.40" lengthAdjust="spacingAndGlyphs" fill="#1c1c1c">sh3</text>
<rect x="440.80" y="436.70" width="5.90" height="5.60" fill="#d6953e"/>
<text x="450.18" y="442.40" font-size="8.6" textLength="19.42" lengthAdjust="spacingAndGlyphs" fill="#1c1c1c">ARIEL</text>
<text x="472.05" y="442.40" font-size="8.6" textLength="11.32" lengthAdjust="spacingAndGlyphs" fill="#1c1c1c">sh7</text>
<line x1="324.60" y1="454.00" x2="353.20" y2="454.00" stroke="#1a1a1a" stroke-width="0.95"/>
<text x="335.81" y="453.90" font-size="9.6" textLength="6.37" lengthAdjust="spacingAndGlyphs" fill="#1c1c1c">**</text>
<line x1="326.70" y1="467.50" x2="340.90" y2="467.50" stroke="#1a1a1a" stroke-width="0.95"/>
<text x="330.41" y="467.40" font-size="9.6" textLength="6.37" lengthAdjust="spacingAndGlyphs" fill="#1c1c1c">**</text>
<line x1="378.25" y1="454.00" x2="406.75" y2="454.00" stroke="#1a1a1a" stroke-width="0.95"/>
<text x="389.31" y="453.90" font-size="9.6" textLength="6.37" lengthAdjust="spacingAndGlyphs" fill="#1c1c1c">**</text>
<line x1="377.50" y1="467.50" x2="391.50" y2="467.50" stroke="#1a1a1a" stroke-width="0.95"/>
<text x="382.96" y="467.40" font-size="9.6" textLength="3.07" lengthAdjust="spacingAndGlyphs" fill="#1c1c1c">*</text>
<text transform="translate(290.20,606.60) rotate(-90)" font-size="10.2" textLength="154.41" lengthAdjust="spacingAndGlyphs" fill="#1c1c1c">RNA expression (relative to shGFP)</text>
<text x="11.98" y="427.60" font-size="12.6" textLength="6.64" lengthAdjust="spacingAndGlyphs" fill="#1c1c1c">E</text>
<text x="77.39" y="451.00" font-size="8.8" textLength="28.08" lengthAdjust="spacingAndGlyphs" fill="#1c1c1c">JURKAT</text>
<text x="161.52" y="451.00" font-size="8.8" textLength="29.11" lengthAdjust="spacingAndGlyphs" fill="#1c1c1c">MOLT-4</text>
<line x1="56.50" y1="456.50" x2="126.60" y2="456.50" stroke="#1c1c1c" stroke-width="0.9"/>
<line x1="141.20" y1="456.50" x2="211.30" y2="456.50" stroke="#1c1c1c" stroke-width="0.9"/>
<text x="20.79" y="472.00" font-size="8.8" textLength="23.91" lengthAdjust="spacingAndGlyphs" fill="#1c1c1c">shGFP</text>
<text x="30.97" y="490.50" font-size="8.8" textLength="13.72" lengthAdjust="spacingAndGlyphs" fill="#1c1c1c">sh3</text>
<text x="30.97" y="509.20" font-size="8.8" textLength="13.69" lengthAdjust="spacingAndGlyphs" fill="#1c1c1c">sh5</text>
<text x="16.88" y="530.80" font-size="8.8" textLength="28.13" lengthAdjust="spacingAndGlyphs" fill="#1c1c1c">ARID5B</text>
<text x="8.70" y="554.40" font-size="8.8" textLength="36.21" lengthAdjust="spacingAndGlyphs" fill="#1c1c1c">α-tubulin</text>
<text x="218.97" y="530.80" font-size="8.6" textLength="29.85" lengthAdjust="spacingAndGlyphs" fill="#1c1c1c">150kDA</text>
<text x="219.27" y="554.50" font-size="8.6" textLength="23.73" lengthAdjust="spacingAndGlyphs" fill="#1c1c1c">55kDa</text>
<text x="66.65" y="472.65" font-size="9.0" textLength="5.30" lengthAdjust="spacingAndGlyphs" fill="#1c1c1c">+</text>
<text x="90.85" y="471.90" font-size="9.0" textLength="3.30" lengthAdjust="spacingAndGlyphs" fill="#1c1c1c">-</text>
<text x="113.85" y="471.90" font-size="9.0" textLength="3.30" lengthAdjust="spacingAndGlyphs" fill="#1c1c1c">-</text>
<text x="152.65" y="472.65" font-size="9.0" textLength="5.30" lengthAdjust="spacingAndGlyphs" fill="#1c1c1c">+</text>
<text x="176.85" y="471.90" font-size="9.0" textLength="3.30" lengthAdjust="spacingAndGlyphs" fill="#1c1c1c">-</text>
<text x="199.85" y="471.90" font-size="9.0" textLength="3.30" lengthAdjust="spacingAndGlyphs" fill="#1c1c1c">-</text>
<text x="67.65" y="490.20" font-size="9.0" textLength="3.30" lengthAdjust="spacingAndGlyphs" fill="#1c1c1c">-</text>
<text x="89.85" y="490.95" font-size="9.0" textLength="5.30" lengthAdjust="spacingAndGlyphs" fill="#1c1c1c">+</text>
<text x="113.85" y="490.20" font-size="9.0" textLength="3.30" lengthAdjust="spacingAndGlyphs" fill="#1c1c1c">-</text>
<text x="153.65" y="490.20" font-size="9.0" textLength="3.30" lengthAdjust="spacingAndGlyphs" fill="#1c1c1c">-</text>
<text x="175.85" y="490.95" font-size="9.0" textLength="5.30" lengthAdjust="spacingAndGlyphs" fill="#1c1c1c">+</text>
<text x="199.85" y="490.20" font-size="9.0" textLength="3.30" lengthAdjust="spacingAndGlyphs" fill="#1c1c1c">-</text>
<text x="67.65" y="508.90" font-size="9.0" textLength="3.30" lengthAdjust="spacingAndGlyphs" fill="#1c1c1c">-</text>
<text x="90.85" y="508.90" font-size="9.0" textLength="3.30" lengthAdjust="spacingAndGlyphs" fill="#1c1c1c">-</text>
<text x="112.85" y="509.65" font-size="9.0" textLength="5.30" lengthAdjust="spacingAndGlyphs" fill="#1c1c1c">+</text>
<text x="153.65" y="508.90" font-size="9.0" textLength="3.30" lengthAdjust="spacingAndGlyphs" fill="#1c1c1c">-</text>
<text x="176.85" y="508.90" font-size="9.0" textLength="3.30" lengthAdjust="spacingAndGlyphs" fill="#1c1c1c">-</text>
<text x="198.85" y="509.65" font-size="9.0" textLength="5.30" lengthAdjust="spacingAndGlyphs" fill="#1c1c1c">+</text>
<defs><filter id="b1" filterUnits="userSpaceOnUse" x="40" y="500" width="200" height="80"><feGaussianBlur stdDeviation="0.9 0.8"/></filter><filter id="b2" filterUnits="userSpaceOnUse" x="40" y="500" width="200" height="80"><feGaussianBlur stdDeviation="1.4 1.2"/></filter><filter id="b3" filterUnits="userSpaceOnUse" x="40" y="500" width="200" height="80"><feGaussianBlur stdDeviation="3 2.4"/></filter><linearGradient id="bg" x1="0" y1="0" x2="0" y2="1"><stop offset="0" stop-color="#e2e2e2"/><stop offset="1" stop-color="#cfcfcf"/></linearGradient></defs>
<clipPath id="c1"><rect x="58.6" y="518.3" width="71.70000000000002" height="18.5"/></clipPath>
<rect x="58.6" y="518.3" width="71.70000000000002" height="18.5" fill="url(#bg)"/>
<g clip-path="url(#c1)">
<ellipse cx="70.5" cy="527.5" rx="12" ry="7" fill="#000" opacity="0.22" filter="url(#b3)"/>
<ellipse cx="92.5" cy="528.0" rx="11" ry="6" fill="#000" opacity="0.12" filter="url(#b3)"/>
<ellipse cx="116.5" cy="527.0" rx="12" ry="6" fill="#000" opacity="0.16" filter="url(#b3)"/>
<path d="M62.00,528.60 Q62.00,525.90 64.70,525.90 Q70.50,525.70 76.30,525.50 Q79.00,525.50 79.00,528.20 Q79.00,530.90 76.30,530.90 Q70.50,531.10 64.70,531.30 Q62.00,531.30 62.00,528.60 Z" fill="#000" opacity="1.0" filter="url(#b1)"/>
<path d="M84.00,528.10 Q84.00,525.60 86.50,525.60 Q92.75,525.40 99.00,525.20 Q101.50,525.20 101.50,527.70 Q101.50,530.20 99.00,530.20 Q92.75,530.40 86.50,530.60 Q84.00,530.60 84.00,528.10 Z" fill="#000" opacity="0.26" filter="url(#b2)"/>
<path d="M107.50,527.10 Q107.50,524.60 110.00,524.60 Q116.50,524.50 123.00,524.40 Q125.50,524.40 125.50,526.90 Q125.50,529.40 123.00,529.40 Q116.50,529.50 110.00,529.60 Q107.50,529.60 107.50,527.10 Z" fill="#000" opacity="0.48" filter="url(#b2)"/>
</g>
<rect x="59.15" y="518.85" width="70.60" height="17.40" fill="none" stroke="#0a0a0a" stroke-width="1.1"/>
<clipPath id="c2"><rect x="58.6" y="540.0" width="71.70000000000002" height="18.100000000000023"/></clipPath>
<rect x="58.6" y="540.0" width="71.70000000000002" height="18.100000000000023" fill="url(#bg)"/>
<g clip-path="url(#c2)">
<ellipse cx="71" cy="549.5" rx="12" ry="7" fill="#000" opacity="0.22" filter="url(#b3)"/>
<ellipse cx="93" cy="549.5" rx="12" ry="7" fill="#000" opacity="0.22" filter="url(#b3)"/>
<ellipse cx="116" cy="549.5" rx="12" ry="7" fill="#000" opacity="0.22" filter="url(#b3)"/>
<path d="M62.00,546.20 Q71.20,550.60 80.40,546.20 L80.40,550.00 C76.35,555.47 66.05,555.47 62.00,550.00 Z" fill="#000" opacity="1.0" filter="url(#b1)"/>
<path d="M84.00,546.40 Q93.30,550.80 102.60,546.40 L102.60,550.00 C98.51,555.47 88.09,555.47 84.00,550.00 Z" fill="#000" opacity="1.0" filter="url(#b1)"/>
<path d="M106.00,546.20 Q116.10,550.60 126.20,546.20 L126.20,550.00 C121.76,555.47 110.44,555.47 106.00,550.00 Z" fill="#000" opacity="1.0" filter="url(#b1)"/>
</g>
<rect x="59.15" y="540.55" width="70.60" height="17.00" fill="none" stroke="#0a0a0a" stroke-width="1.1"/>
<clipPath id="c3"><rect x="141.9" y="520.2" width="71.69999999999999" height="15.699999999999932"/></clipPath>
<rect x="141.9" y="520.2" width="71.69999999999999" height="15.699999999999932" fill="url(#bg)"/>
<g clip-path="url(#c3)">
<ellipse cx="154.5" cy="529.5" rx="11" ry="6" fill="#000" opacity="0.2" filter="url(#b3)"/>
<ellipse cx="177.5" cy="527.5" rx="11" ry="6" fill="#000" opacity="0.14" filter="url(#b3)"/>
<ellipse cx="200.5" cy="529.0" rx="11" ry="6" fill="#000" opacity="0.12" filter="url(#b3)"/>
<path d="M146.30,530.80 Q146.30,528.80 148.30,528.80 Q154.30,527.80 160.30,526.80 Q162.30,526.80 162.30,528.80 Q162.30,530.80 160.30,530.80 Q154.30,531.80 148.30,532.80 Q146.30,532.80 146.30,530.80 Z" fill="#000" opacity="1.0" filter="url(#b1)"/>
<path d="M169.50,527.00 Q169.50,525.00 171.50,525.00 Q177.60,525.00 183.70,525.00 Q185.70,525.00 185.70,527.00 Q185.70,529.00 183.70,529.00 Q177.60,529.00 171.50,529.00 Q169.50,529.00 169.50,527.00 Z" fill="#000" opacity="0.6" filter="url(#b2)"/>
<path d="M192.60,530.00 Q192.60,528.20 194.40,528.20 Q200.70,527.00 207.00,525.80 Q208.80,525.80 208.80,527.60 Q208.80,529.40 207.00,529.40 Q200.70,530.60 194.40,531.80 Q192.60,531.80 192.60,530.00 Z" fill="#000" opacity="0.38" filter="url(#b2)"/>
</g>
<rect x="142.45" y="520.75" width="70.60" height="14.60" fill="none" stroke="#0a0a0a" stroke-width="1.1"/>
<clipPath id="c4"><rect x="141.9" y="539.6" width="71.69999999999999" height="18.199999999999932"/></clipPath>
<rect x="141.9" y="539.6" width="71.69999999999999" height="18.199999999999932" fill="url(#bg)"/>
<g clip-path="url(#c4)">
<ellipse cx="156" cy="547.8" rx="13" ry="8" fill="#000" opacity="0.3" filter="url(#b3)"/>
<ellipse cx="179" cy="547.6" rx="13" ry="8" fill="#000" opacity="0.3" filter="url(#b3)"/>
<ellipse cx="201" cy="547.6" rx="13" ry="8" fill="#000" opacity="0.3" filter="url(#b3)"/>
<path d="M146.20,547.80 Q146.20,545.60 148.40,545.60 Q153.10,545.90 157.80,545.40 Q160.00,545.40 160.00,547.60 Q160.00,549.80 157.80,549.80 Q153.10,550.70 148.40,550.00 Q146.20,550.00 146.20,547.80 Z" fill="#000" opacity="1.0" filter="url(#b1)"/>
<path d="M156.00,547.80 Q156.00,546.40 157.40,546.40 Q161.00,546.20 164.60,546.00 Q166.00,546.00 166.00,547.40 Q166.00,548.80 164.60,548.80 Q161.00,549.00 157.40,549.20 Q156.00,549.20 156.00,547.80 Z" fill="#000" opacity="1.0" filter="url(#b1)"/>
<path d="M170.20,547.30 Q170.20,544.80 172.70,544.80 Q178.90,545.20 185.10,544.80 Q187.60,544.80 187.60,547.30 Q187.60,549.80 185.10,549.80 Q178.90,551.00 172.70,549.80 Q170.20,549.80 170.20,547.30 Z" fill="#000" opacity="1.0" filter="url(#b1)"/>
<path d="M192.40,547.70 Q192.40,545.80 194.30,545.80 Q201.20,545.80 208.10,545.80 Q210.00,545.80 210.00,547.70 Q210.00,549.60 208.10,549.60 Q201.20,550.20 194.30,549.60 Q192.40,549.60 192.40,547.70 Z" fill="#000" opacity="1.0" filter="url(#b1)"/>
</g>
<rect x="142.45" y="540.15" width="70.60" height="17.10" fill="none" stroke="#0a0a0a" stroke-width="1.1"/>
</svg>
</body>
</html>
